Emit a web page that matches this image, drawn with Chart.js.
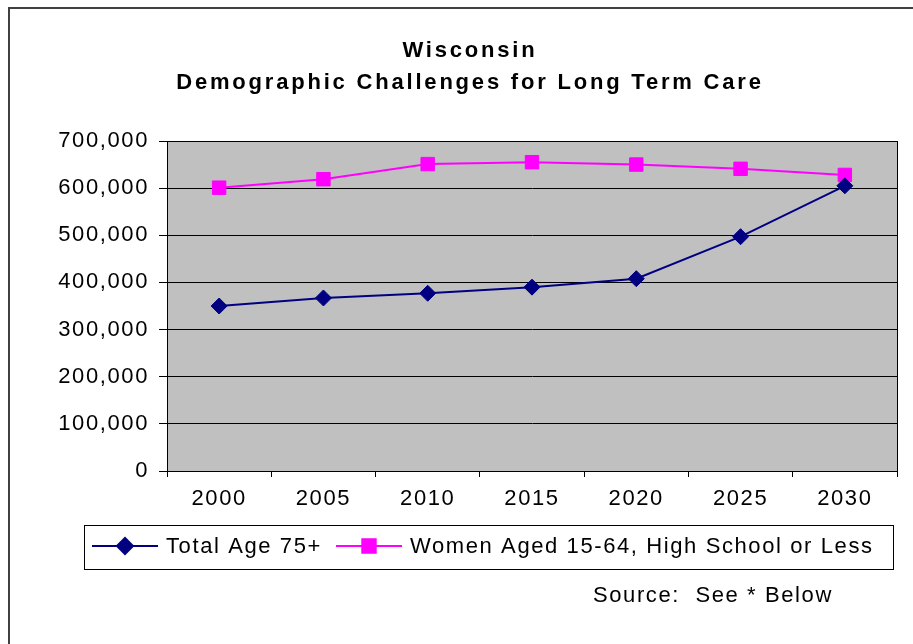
<!DOCTYPE html>
<html>
<head>
<meta charset="utf-8">
<script src="https://cdn.jsdelivr.net/npm/chart.js@4/dist/chart.umd.min.js"></script>
<style>
  html, body { margin: 0; padding: 0; background: #fff; }
  #wrap { width: 913px; height: 644px; position: relative; }
</style>
</head>
<body>
<div id="wrap"><canvas id="c" width="913" height="644"></canvas></div>
<script>
const years = ['2000', '2005', '2010', '2015', '2020', '2025', '2030'];
const totalAge75 = [350000, 367000, 377000, 390000, 408000, 497000, 605000];
const womenHS = [601000, 619000, 651000, 655000, 650000, 641000, 628000];
const seriesLabels = ['Total Age 75+', 'Women Aged 15-64, High School or Less'];
const titleLines = ['Wisconsin', 'Demographic Challenges for Long Term Care'];
const sourceNote = 'Source:  See * Below';
const yTicksMax = 700000;
const yTicksStep = 100000;

const FONT = '"Liberation Sans", Arial, sans-serif';
const TEXT_SPACING = '1.6px';
Chart.defaults.font.family = FONT;
Chart.defaults.color = '#000';

const decorPlugin = {
  id: 'decor',
  beforeDraw(chart) {
    const ctx = chart.ctx;
    const a = chart.chartArea;
    ctx.save();
    ctx.fillStyle = '#fff';
    ctx.fillRect(0, 0, chart.width, chart.height);
    ctx.fillStyle = '#C0C0C0';
    ctx.fillRect(a.left, a.top, a.right - a.left, a.bottom - a.top);
    ctx.restore();
    ctx.letterSpacing = TEXT_SPACING;
  },
  afterDraw(chart) {
    const ctx = chart.ctx;
    const a = chart.chartArea;
    ctx.save();
    ctx.letterSpacing = '0px';
    // plot border
    ctx.strokeStyle = '#000';
    ctx.lineWidth = 1;
    ctx.strokeRect(Math.round(a.left) + 0.5, Math.round(a.top) + 0.5, Math.round(a.right - a.left), Math.round(a.bottom - a.top));
    // outer frame
    ctx.strokeStyle = '#404040';
    ctx.lineWidth = 2;
    ctx.strokeRect(9, 8, 930, 660);
    // title
    ctx.fillStyle = '#000';
    ctx.font = 'bold 22px ' + FONT;
    ctx.letterSpacing = '2.8px';
    ctx.textAlign = 'center';
    ctx.textBaseline = 'alphabetic';
    ctx.fillText(titleLines[0], 470, 57);
    ctx.fillText(titleLines[1], 470, 89);
    // legend
    ctx.font = '22px ' + FONT;
    ctx.letterSpacing = TEXT_SPACING;
    ctx.textAlign = 'left';
    ctx.textBaseline = 'middle';
    ctx.strokeStyle = '#000';
    ctx.lineWidth = 1;
    ctx.strokeRect(84.5, 525.5, 809, 44);
    const ly = 546;
    const lineStarts = [92, 336];
    const textStarts = [166, 410];
    chart.data.datasets.forEach((ds, i) => {
      const x0 = lineStarts[i];
      ctx.strokeStyle = ds.borderColor;
      ctx.lineWidth = 2;
      ctx.beginPath();
      ctx.moveTo(x0, ly);
      ctx.lineTo(x0 + 66, ly);
      ctx.stroke();
      ctx.fillStyle = ds.pointBackgroundColor;
      ctx.strokeStyle = ds.borderColor;
      Chart.helpers.drawPoint(ctx, {pointStyle: ds.pointStyle, radius: ds.pointRadius, rotation: 0, borderWidth: 1}, x0 + 33, ly);
      ctx.fillStyle = '#000';
      ctx.fillText(ds.label, textStarts[i], ly + 1);
    });
    // source
    ctx.textBaseline = 'alphabetic';
    ctx.fillText(sourceNote, 593, 602);
    ctx.restore();
  }
};

new Chart(document.getElementById('c'), {
  type: 'line',
  data: {
    labels: years,
    datasets: [
      {
        label: seriesLabels[0],
        data: totalAge75,
        borderColor: '#000080',
        backgroundColor: '#000080',
        pointBackgroundColor: '#000080',
        borderWidth: 2,
        pointStyle: 'rectRot',
        pointRadius: 8,
        pointBorderWidth: 1,
        tension: 0
      },
      {
        label: seriesLabels[1],
        data: womenHS,
        borderColor: '#FF00FF',
        backgroundColor: '#FF00FF',
        pointBackgroundColor: '#FF00FF',
        borderWidth: 2,
        pointStyle: 'rect',
        pointRadius: 9.5,
        pointBorderWidth: 1,
        tension: 0
      }
    ]
  },
  options: {
    responsive: false,
    animation: false,
    devicePixelRatio: 1,
    layout: { padding: { left: 0, top: 141, right: 16, bottom: 113 } },
    plugins: {
      legend: { display: false },
      title: { display: false },
      tooltip: { enabled: false }
    },
    scales: {
      x: {
        offset: true,
        grid: { offset: true, drawOnChartArea: false, drawTicks: true, tickLength: 6, color: '#000' },
        border: { color: '#000' },
        ticks: { font: { size: 22 }, padding: 9, color: '#000', maxRotation: 0 },
        afterFit(s) { s.height = 60; }
      },
      y: {
        min: 0,
        max: yTicksMax,
        ticks: { stepSize: yTicksStep, font: { size: 22 }, padding: 10, color: '#000',
          callback: v => v.toLocaleString('en-US') },
        grid: { color: '#000', tickLength: 8, lineWidth: 1 },
        border: { color: '#000' },
        afterFit(s) { s.width = 167; }
      }
    }
  },
  plugins: [decorPlugin]
});
</script>
</body>
</html>
